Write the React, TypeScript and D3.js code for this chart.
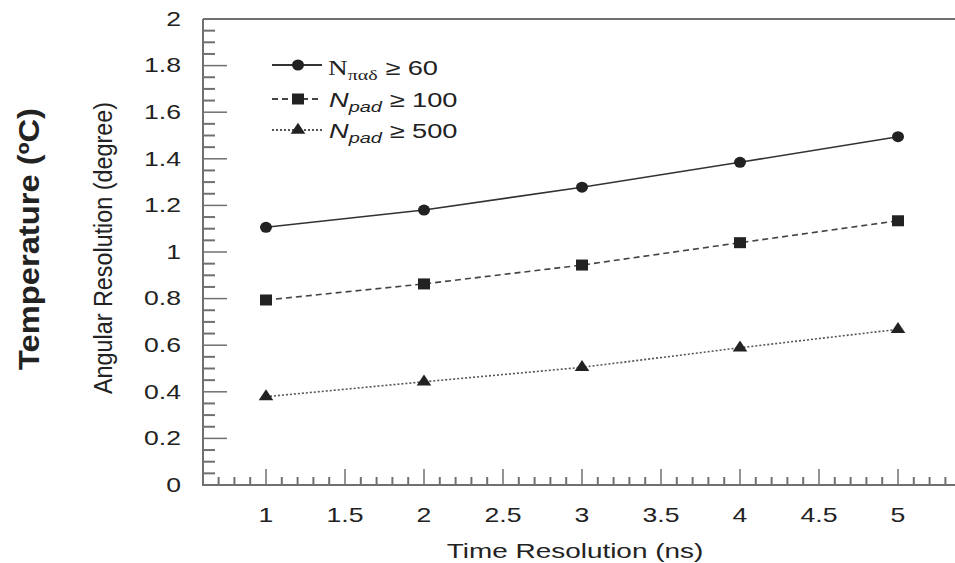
import React from "react";
import * as d3 from "d3";

const xValues = [1, 2, 3, 4, 5];
const seriesCircle = [1.106, 1.18, 1.278, 1.385, 1.495];
const seriesSquare = [0.794, 0.863, 0.944, 1.04, 1.134];
const seriesTriangle = [0.379, 0.443, 0.505, 0.589, 0.668];
const xTickLabels = [1, 1.5, 2, 2.5, 3, 3.5, 4, 4.5, 5];
const yTickLabels = [0, 0.2, 0.4, 0.6, 0.8, 1, 1.2, 1.4, 1.6, 1.8, 2];

const W = 955;
const H = 563;
const SX = 1.33; // horizontal glyph stretch of the reference
const AXIS = "#707070";
const INK = "#222";
const FONT = "Arial, 'Liberation Sans', Helvetica, sans-serif";
const SERIF = "'Times New Roman', 'Liberation Serif', serif";

export default function App() {
  const x = d3.scaleLinear().domain([1, 5]).range([266, 898]);
  const y = d3.scaleLinear().domain([0, 2]).range([485, 19]);
  const left = 203;
  const right = W;
  const bottom = y(0);
  const top = y(2);

  const line = d3
    .line<number>()
    .x((_, i) => x(xValues[i]))
    .y((d) => y(d));

  const xMinor: number[] = [];
  for (let k = 7; k <= 53; k++) xMinor.push(k / 10);
  const yMinor: number[] = [];
  for (let k = 1; k < 40; k++) yMinor.push(k / 20);

  const fmt = (v: number) => String(Math.round(v * 10) / 10);
  const tri = d3.symbol(d3.symbolTriangle, 70)() as string;

  const series = [
    { data: seriesCircle, dash: "none", color: "#333", marker: "circle" },
    { data: seriesSquare, dash: "6,4", color: "#444", marker: "square" },
    { data: seriesTriangle, dash: "2,2", color: "#555", marker: "triangle" },
  ];

  const marker = (kind: string, cx: number, cy: number, key: string) => {
    if (kind === "circle")
      return <ellipse key={key} cx={cx} cy={cy} rx={6} ry={5.5} fill={INK} />;
    if (kind === "square")
      return <rect key={key} x={cx - 6} y={cy - 5.5} width={12} height={11} fill={INK} />;
    return (
      <path key={key} d={tri} transform={`translate(${cx},${cy}) scale(1.15,1)`} fill={INK} />
    );
  };

  const legendRows = [
    { yc: 65, kind: "circle", dash: "none", color: "#333" },
    { yc: 99, kind: "square", dash: "6,4", color: "#444" },
    { yc: 130, kind: "triangle", dash: "2,2", color: "#555" },
  ];

  return (
    <svg
      width={W}
      height={H}
      style={{ position: "absolute", left: 0, top: 0, background: "#fff" }}
    >
      <rect x={0} y={0} width={W} height={H} fill="#fff" />
      {/* frame */}
      <line x1={left} x2={right} y1={top} y2={top} stroke={AXIS} strokeWidth={2} />
      <line x1={left} x2={left} y1={top} y2={bottom + 1} stroke={AXIS} strokeWidth={2} />
      <line x1={left} x2={right} y1={bottom} y2={bottom} stroke={AXIS} strokeWidth={2} />

      {/* y ticks */}
      {yMinor.map((v, i) => {
        const major = Math.abs(v * 5 - Math.round(v * 5)) < 1e-6;
        return (
          <line
            key={"ym" + i}
            x1={left}
            x2={left + (major ? 24 : 12)}
            y1={y(v)}
            y2={y(v)}
            stroke={AXIS}
            strokeWidth={major ? 1.5 : 2}
          />
        );
      })}
      {yTickLabels.map((v) => (
        <text
          key={"yl" + v}
          transform={`translate(181,${y(v)}) scale(${SX},1)`}
          textAnchor="end"
          dominantBaseline="central"
          fontFamily={FONT}
          fontSize={20}
          fill={INK}
        >
          {fmt(v)}
        </text>
      ))}

      {/* x ticks */}
      {xMinor.map((v, i) => {
        const major = Math.abs(v * 2 - Math.round(v * 2)) < 1e-6;
        return (
          <line
            key={"xm" + i}
            x1={x(v)}
            x2={x(v)}
            y1={bottom}
            y2={bottom - (major ? 16 : 8)}
            stroke={AXIS}
            strokeWidth={major ? 1.5 : 2}
          />
        );
      })}
      {xTickLabels.map((v) => (
        <text
          key={"xl" + v}
          transform={`translate(${x(v)},522) scale(${SX},1)`}
          textAnchor="middle"
          fontFamily={FONT}
          fontSize={20}
          fill={INK}
        >
          {fmt(v)}
        </text>
      ))}

      {/* axis titles */}
      <text
        transform={`translate(575,558) scale(${SX},1)`}
        textAnchor="middle"
        fontFamily={FONT}
        fontSize={21}
        fill={INK}
      >
        Time Resolution (ns)
      </text>
      <text
        transform={`translate(112,248) scale(${SX},1) rotate(-90)`}
        textAnchor="middle"
        fontFamily={FONT}
        fontSize={20}
        fill={INK}
        textLength={292}
        lengthAdjust="spacingAndGlyphs"
      >
        Angular Resolution (degree)
      </text>
      <text
        transform={`translate(39,239) scale(${SX},1) rotate(-90)`}
        textAnchor="middle"
        fontFamily={FONT}
        fontWeight="bold"
        fontSize={22}
        fill={INK}
        textLength={262}
        lengthAdjust="spacingAndGlyphs"
      >
        Temperature (ºC)
      </text>

      {/* series */}
      {series.map((s, si) => (
        <g key={"s" + si}>
          <path
            d={line(s.data) as string}
            fill="none"
            stroke={s.color}
            strokeWidth={1.6}
            strokeDasharray={s.dash}
          />
          {s.data.map((v, i) => marker(s.marker, x(xValues[i]), y(v), `m${si}-${i}`))}
        </g>
      ))}

      {/* legend */}
      {legendRows.map((r, i) => (
        <g key={"lg" + i}>
          <line
            x1={272}
            x2={322}
            y1={r.yc}
            y2={r.yc}
            stroke={r.color}
            strokeWidth={1.8}
            strokeDasharray={r.dash}
          />
          {marker(r.kind, 298, r.yc, "lm" + i)}
        </g>
      ))}
      <text transform={`translate(328,75) scale(${SX},1)`} fill={INK} fontSize={20.5}>
        <tspan fontFamily={SERIF}>N</tspan>
        <tspan fontFamily={SERIF} fontSize={15} dy={5}>παδ</tspan>
        <tspan fontFamily={FONT} dy={-5}> ≥ 60</tspan>
      </text>
      <text transform={`translate(329,107) scale(${SX},1)`} fill={INK} fontSize={20.5} fontFamily={FONT}>
        <tspan fontStyle="italic">N</tspan>
        <tspan fontStyle="italic" fontSize={15} dy={5}>pad</tspan>
        <tspan dy={-5}> ≥ 100</tspan>
      </text>
      <text transform={`translate(329,138) scale(${SX},1)`} fill={INK} fontSize={20.5} fontFamily={FONT}>
        <tspan fontStyle="italic">N</tspan>
        <tspan fontStyle="italic" fontSize={15} dy={5}>pad</tspan>
        <tspan dy={-5}> ≥ 500</tspan>
      </text>
    </svg>
  );
}
